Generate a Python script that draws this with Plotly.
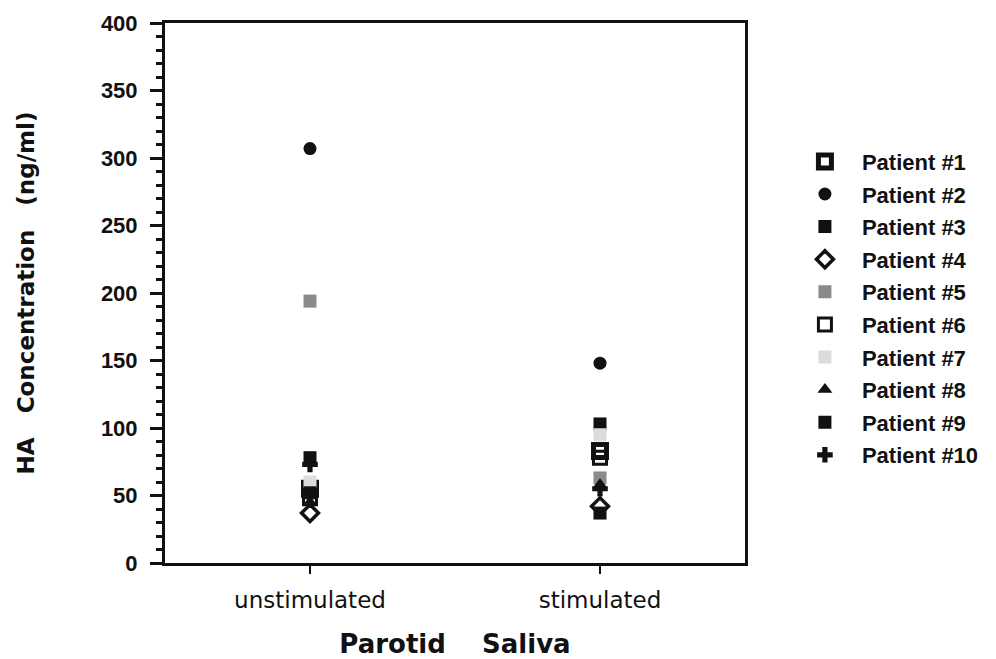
import plotly.graph_objects as go

# Parotid saliva HA concentration (ng/ml) per patient
conditions = ["unstimulated", "stimulated"]
patients = [f"Patient #{i}" for i in range(1, 11)]
unstimulated = [55, 307, 78, 37, 194, 48, 60, 45, 52, 73]
stimulated = [83, 148, 103, 42, 63, 78, 95, 58, 37, 55]

y_ticks = [0, 50, 100, 150, 200, 250, 300, 350, 400]

# marker per patient: (symbol, fill colour, line width)
markers = [
    ("square-open", "#111", 5),
    ("circle", "#111", 0),
    ("square", "#111", 0),
    ("diamond-open", "#111", 3.5),
    ("square", "#8a8a8a", 0),
    ("square-open", "#111", 3),
    ("square", "#dcdcdc", 0),
    ("triangle-up", "#111", 0),
    ("square", "#111", 0),
    ("cross", "#111", 0),
]

BOLD = "Liberation Sans"
WIDE = "DejaVu Sans"

fig = go.Figure()
for i, name in enumerate(patients):
    sym, col, lw = markers[i]
    fig.add_trace(
        go.Scatter(
            x=conditions,
            y=[unstimulated[i], stimulated[i]],
            name=name,
            legendgroup=name,
            mode="markers",
            marker=dict(symbol=sym, color=col, size=13,
                        line=dict(color=col, width=lw)),
        )
    )

nb = "\u00a0"
# the page body adds 8px, so the figure is a bit smaller than the window
fig.update_layout(
    width=988,
    height=651,
    paper_bgcolor="white",
    plot_bgcolor="white",
    margin=dict(l=157, r=249, t=15, b=96),
    font=dict(family=BOLD, color="#111"),
    legend=dict(
        x=1.074, xanchor="left", y=0.472, yanchor="middle",
        font=dict(size=22, family=BOLD, weight="bold"),
        tracegroupgap=1, itemwidth=64,
        bgcolor="rgba(0,0,0,0)",
    ),
    xaxis=dict(
        type="category",
        range=[-0.5, 1.5],
        automargin=False,
        showline=True, linecolor="#111", linewidth=3, mirror=True,
        ticks="outside", ticklen=8, tickwidth=2, tickcolor="#111",
        ticklabelstandoff=6,
        showgrid=False,
        tickfont=dict(size=23, family=WIDE),
        title=dict(text=f"Parotid{nb*4}Saliva", standoff=26,
                   font=dict(size=26, family=WIDE, weight="bold")),
    ),
    yaxis=dict(
        range=[0, 400],
        tickvals=y_ticks,
        automargin=False,
        showline=True, linecolor="#111", linewidth=3, mirror=True,
        ticks="outside", ticklen=12, tickwidth=3, tickcolor="#111",
        ticklabelstandoff=8,
        minor=dict(dtick=10, ticks="outside", ticklen=6, tickwidth=3,
                   tickcolor="#111", showgrid=False),
        showgrid=False, zeroline=False,
        tickfont=dict(size=22, family=BOLD, weight="bold"),
        title=dict(text=f"HA{nb*3}Concentration{nb*3}(ng/ml)", standoff=60,
                   font=dict(size=23, family=WIDE, weight="bold")),
    ),
)

fig.write_html("out.html")
